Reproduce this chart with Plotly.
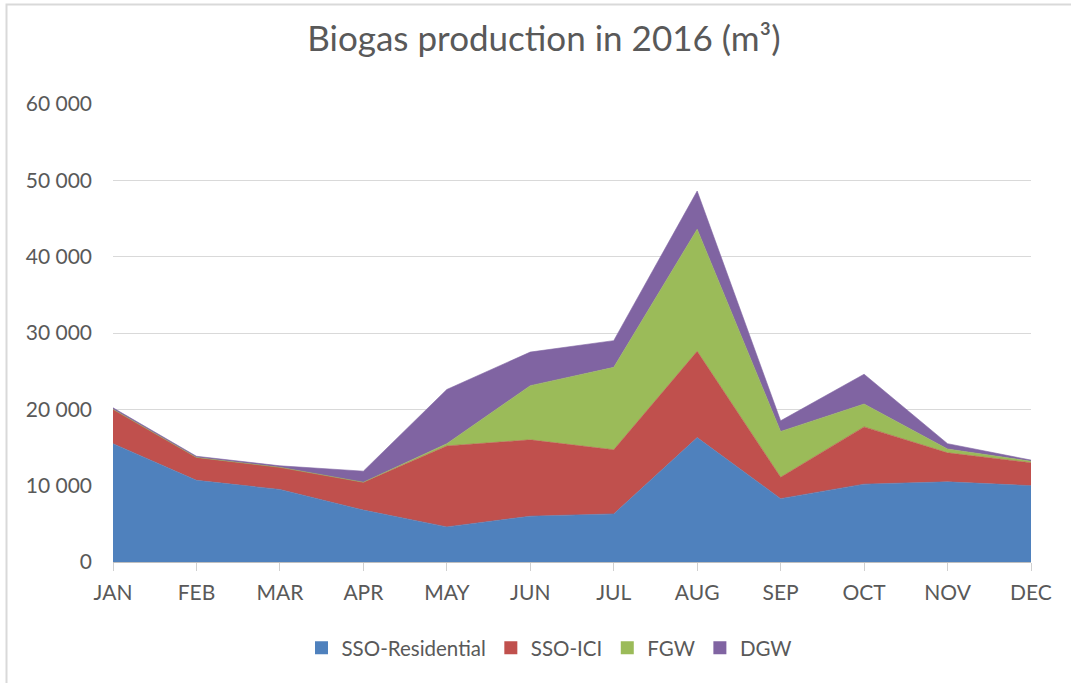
import plotly.graph_objects as go

months = ["JAN", "FEB", "MAR", "APR", "MAY", "JUN", "JUL", "AUG", "SEP", "OCT", "NOV", "DEC"]
sso_residential = [15500, 10700, 9500, 6800, 4600, 6000, 6300, 16300, 8300, 10200, 10500, 10000]
sso_ici = [4500, 3000, 2900, 3650, 10600, 10000, 8400, 11300, 2800, 7500, 3800, 3000]
fgw = [0, 0, 0, 0, 300, 7100, 10800, 16000, 6000, 3000, 500, 200]
dgw = [200, 150, 200, 1450, 7100, 4400, 3500, 5000, 1400, 3900, 700, 150]

y_tickvals = [0, 10000, 20000, 30000, 40000, 50000, 60000]
y_ticktext = ["0", "10 000", "20 000", "30 000", "40 000", "50 000", "60 000"]

series = [
    ("SSO-Residential", sso_residential, "#4F81BD"),
    ("SSO-ICI", sso_ici, "#C0504D"),
    ("FGW", fgw, "#9BBB59"),
    ("DGW", dgw, "#8064A2"),
]

W, H = 1071, 683
L, R, T, B = 113, 40, 104, 121
PW, PH = W - L - R, H - T - B

xs = list(range(len(months)))
fig = go.Figure()
for name, vals, col in series:
    fig.add_trace(go.Scatter(
        x=xs, y=vals, name=name, mode="lines", stackgroup="one",
        line=dict(width=0.6, color=col), fillcolor=col, showlegend=False,
        hoverinfo="skip",
    ))
# legend entries with square swatches
for name, vals, col in series:
    fig.add_trace(go.Scatter(
        x=[None], y=[None], name=name, mode="markers",
        marker=dict(symbol="square", size=13, color=col), showlegend=True,
    ))

font_family = "Lato, Open Sans, sans-serif"
fig.update_layout(
    width=W, height=H,
    margin=dict(l=L, r=R, t=T, b=B),
    paper_bgcolor="white", plot_bgcolor="white",
    title=dict(text="Biogas production in 2016 (m³)", x=544 / W, xanchor="center",
               xref="container",
               y=1 - 39 / H, yanchor="middle",
               font=dict(family=font_family, size=35, color="#595959")),
    xaxis=dict(tickmode="array", tickvals=xs, ticktext=months, range=[0, 11],
               showgrid=False, showline=True, linecolor="#bfbfbf", linewidth=1,
               ticks="outside", ticklen=8, tickcolor="#d0d0d0", ticklabelstandoff=4,
               tickfont=dict(family=font_family, size=21, color="#595959"), zeroline=False),
    yaxis=dict(tickmode="array", tickvals=y_tickvals, ticktext=y_ticktext, range=[0, 60000],
               showgrid=True, gridcolor="#d9d9d9", gridwidth=1, zeroline=False,
               showline=False, ticks="", ticklabelstandoff=20,
               tickfont=dict(family=font_family, size=21, color="#595959")),
    legend=dict(orientation="h", x=549.5 / W, xanchor="center", xref="container",
                y=1 - 648 / H, yanchor="middle", yref="container",
                font=dict(family=font_family, size=20.5, color="#595959"),
                itemwidth=30, traceorder="normal"),
    showlegend=True,
)

fig.add_shape(type="rect", xref="paper", yref="paper",
              x0=(6.5 - L) / PW, x1=(W + 20 - L) / PW,
              y0=(H - B - (H + 20)) / PH, y1=(H - B - 4.5) / PH,
              line=dict(color="#d9d9d9", width=2), fillcolor="rgba(0,0,0,0)", layer="below")

fig.write_html("out.html", config={"displayModeBar": False},
               post_script="document.body.style.margin='0';")
